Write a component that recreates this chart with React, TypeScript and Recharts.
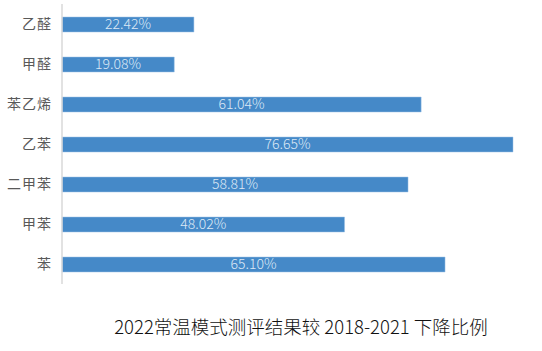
import React from 'react';
import { BarChart, Bar, XAxis, YAxis, LabelList } from 'recharts';

const categories = ['乙醛', '甲醛', '苯乙烯', '乙苯', '二甲苯', '甲苯', '苯'];
const values = [22.42, 19.08, 61.04, 76.65, 58.81, 48.02, 65.1];
const title = '2022常温模式测评结果较 2018-2021 下降比例';

const data = categories.map((name, i) => ({ name, value: values[i] }));

const font = '"Noto Sans CJK SC", "Noto Sans", sans-serif';

export default function App() {
  return (
    <div style={{ position: 'absolute', left: 0, top: 0, width: 542, height: 351, background: '#fff', fontFamily: font }}>
      <BarChart
        width={542}
        height={351}
        data={data}
        layout="vertical"
        margin={{ top: 4, right: 29, bottom: 67, left: 0 }}
        barSize={15}
      >
        <XAxis type="number" domain={[0, 76.65]} hide />
        <YAxis
          type="category"
          dataKey="name"
          width={62}
          axisLine={{ stroke: '#D9D9D9', strokeWidth: 1.5 }}
          tickLine={false}
          tickSize={6}
          tickMargin={4}
          tick={{ fill: '#595959', fontSize: 14, fontFamily: font, letterSpacing: 1 }}
        />
        <Bar dataKey="value" fill="#4589C8" stroke="#9CC3E6" strokeWidth={0.5} isAnimationActive={false}>
          <LabelList
            dataKey="value"
            position="center"
            formatter={(v: number) => v.toFixed(2) + '%'}
            style={{ fill: '#DCE8F5', fontSize: 14, fontFamily: font, fontWeight: 300 }}
          />
        </Bar>
      </BarChart>
      <div
        style={{
          position: 'absolute',
          left: 0,
          width: 602,
          top: 313,
          textAlign: 'center',
          fontSize: 18.5,
          color: '#111',
          fontFamily: font,
          fontWeight: 300,
          lineHeight: '26px',
        }}
      >
        {title}
      </div>
    </div>
  );
}
